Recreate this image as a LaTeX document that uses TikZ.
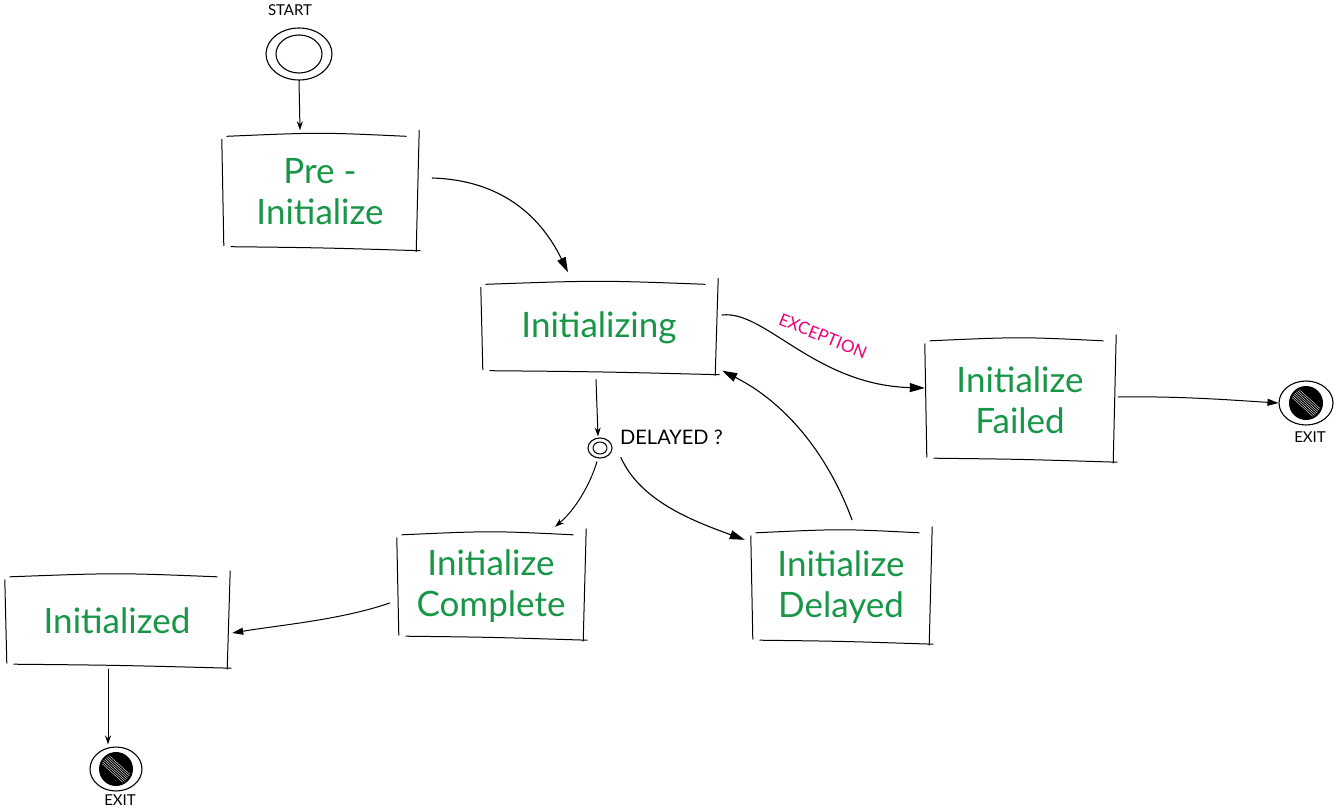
\documentclass[tikz,border=0pt]{standalone}
\usepackage{fontspec}
\setmainfont{Lato}
\usetikzlibrary{arrows.meta,calc,shapes.geometric}
\definecolor{stategreen}{RGB}{22,150,70}
\definecolor{expink}{RGB}{235,0,120}
\newcommand{\sketchbox}[1]{%
  \draw[edge] ($(#1.north west)+(5,2)$) .. controls ($(#1.north)+(0,-2)$) .. ($(#1.north east)+(-12,2)$);
  \draw[edge] ($(#1.north west)+(0,5)$) -- ($(#1.south west)+(2,-4)$);
  \draw[edge] ($(#1.south west)+(9,-3)$) .. controls ($(#1.south)+(0,-2)$) .. ($(#1.south east)+(2,1)$);
  \draw[edge] ($(#1.north east)+(1,-4)$) -- ($(#1.south east)+(-2,2)$);
}
\newcommand{\exitmark}[1]{%
  \fill[black] (#1.center) circle[radius=17];
  \begin{scope}
    \clip (#1.center) circle[radius=15];
    \foreach \d in {-12,-8,-4,0,4,8,12} {
      \draw[white, line width=0.35pt] ($(#1.center)+(\d-20,-18+\d*0.3)$) -- ($(#1.center)+(\d+20,18+\d*0.3)$);
    }
  \end{scope}
}
\begin{document}
\begin{tikzpicture}[x=1pt,y=-1pt, line cap=round, line join=round,
  statebox/.style={rectangle, inner sep=0pt, text=stategreen,
    font=\fontsize{35}{41}\selectfont, align=center},
  edge/.style={draw=black, line width=1pt},
  conn/.style={line width=1pt, -{Stealth[length=9pt,width=6pt]}},
  midconn/.style={line width=1pt, -{Triangle[length=11pt,width=7pt]}},
  bigconn/.style={line width=1.1pt, -{Triangle[length=15pt,width=9pt]}},
  smalllabel/.style={font=\fontsize{15}{17}\selectfont, inner sep=0pt},
  ring/.style={draw, ellipse, line width=1.1pt, inner sep=0pt}]
\useasboundingbox (0,0) rectangle (1336,809);

% start
\node[ring, minimum width=66, minimum height=52] (start) at (299,54) {};
\draw[line width=1.1pt] (start.center) ellipse[x radius=23, y radius=19];
\node[smalllabel] (starttxt) at (290,10) {START};

% states
\node[statebox, minimum width=196, minimum height=115] (pre) at (320,192) {Pre -\\Initialize};
\node[statebox, minimum width=236, minimum height=91] (init) at (599,328) {Initializing};
\node[statebox, minimum width=190, minimum height=122] (failed) at (1020,400) {Initialize\\Failed};
\node[statebox, minimum width=188, minimum height=106] (complete) at (491,586) {Initialize\\Complete};
\node[statebox, minimum width=180, minimum height=112] (delayed) at (841,587) {Initialize\\Delayed};
\node[statebox, minimum width=224, minimum height=92] (initd) at (117,621) {Initialized};
\sketchbox{pre}
\sketchbox{init}
\sketchbox{failed}
\sketchbox{complete}
\sketchbox{delayed}
\sketchbox{initd}

% decision
\node[draw, ellipse, line width=1.1pt, minimum width=24, minimum height=20, inner sep=0pt] (dec) at (600,448) {};
\draw[line width=1pt] (dec.center) ellipse[x radius=7, y radius=6];
\node[smalllabel, anchor=west, font=\fontsize{20}{22}\selectfont] (dectxt) at (620,437) {DELAYED ?};

% exits
\node[ring, minimum width=54, minimum height=44] (exitA) at (1306,403) {};
\exitmark{exitA}
\node[smalllabel] (exitAtxt) at (1310,437) {EXIT};
\node[ring, minimum width=52, minimum height=44] (exitB) at (116,769) {};
\exitmark{exitB}
\node[smalllabel] (exitBtxt) at (120,800) {EXIT};

% connectors
\draw[conn] (start.south) -- ($(pre.north)+(-20,-4)$);
\draw[bigconn] ($(pre.east)+(14,-14)$) .. controls (500,180) and (540,215) .. ($(init.north)+(-31,-10)$);
\draw[bigconn] ($(init.east)+(5,-13)$) .. controls (765,310) and (815,385) .. ($(failed.west)+(0,-12)$);
\node[smalllabel, text=expink, rotate=-22, font=\fontsize{17}{19}\selectfont] (exc) at (823,336) {EXCEPTION};
\draw[midconn] ($(failed.east)+(3,-3)$) .. controls (1180,396) and (1230,400) .. (exitA.west);
\draw[conn] ($(init.south)+(-3,6)$) -- ($(dec.north)+(-2,-1)$);
\draw[conn] ($(dec.south)+(-3,3)$) .. controls (590,485) and (575,510) .. ($(complete.north)+(64,-6)$);
\draw[bigconn] ($(dec.south east)+(12,2)$) .. controls (640,500) and (690,520) .. ($(delayed.north west)+(-6,9)$);
\draw[bigconn] ($(delayed.north)+(11,-11)$) .. controls (830,460) and (790,405) .. ($(init.south east)+(5,-3)$);
\draw[midconn] ($(complete.west)+(-7,17)$) .. controls (340,620) and (280,625) .. ($(initd.east)+(3,12)$);
\draw[conn] ($(initd.south)+(-9,2)$) -- ($(exitB.north)+(-8,-2)$);
\end{tikzpicture}
\end{document}
